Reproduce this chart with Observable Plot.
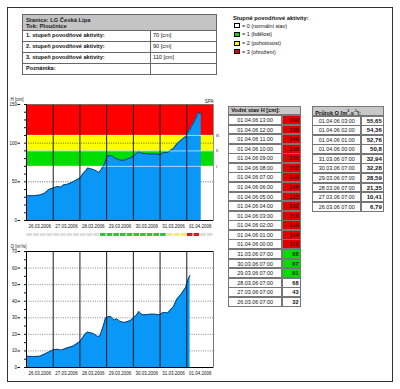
<!DOCTYPE html>
<html><head><meta charset="utf-8">
<script src="https://cdn.jsdelivr.net/npm/d3@7"></script>
<script src="https://cdn.jsdelivr.net/npm/@observablehq/plot@0.6"></script>
<style>
body{margin:0;background:#fff;font-family:"Liberation Sans",Arial,sans-serif;}
#page{position:relative;width:400px;height:389px;overflow:hidden;background:#fff;}
.a{position:absolute;box-sizing:border-box;white-space:nowrap;overflow:hidden;}
svg{position:absolute;}
</style></head><body><div id="page"></div>
<script>
// ---------- data ----------
const stationLines = ["Stanice: LG Česká Lípa", "Tok: Ploučnice"];
const infoLabels = ["1. stupeň povodňové aktivity:", "2. stupeň povodňové aktivity:", "3. stupeň povodňové aktivity:", "Poznámka:"];
const infoValues = ["70 [cm]", "90 [cm]", "110 [cm]", ""];
const legendTitle = "Stupně povodňové aktivity:";
const legendLabels = ["= 0 (normální stav)", "= 1 (bdělost)", "= 2 (pohotovost)", "= 3 (ohrožení)"];
const levelColors = ["#ffffff", "#00dd00", "#ffff00", "#e00000"];
const thresholds = [70, 90, 110];
const thresholdNames = ["I.", "II.", "III."];
const dayLabels = ["26.03.2006","27.03.2006","28.03.2006","29.03.2006","30.03.2006","31.03.2006","01.04.2006"];

const hTimes = ["2006-03-26 00:00","2006-03-26 06:00","2006-03-26 12:00","2006-03-26 16:00","2006-03-26 20:00",
 "2006-03-27 00:00","2006-03-27 04:00","2006-03-27 07:00","2006-03-27 09:00","2006-03-27 13:00","2006-03-27 18:00",
 "2006-03-28 00:00","2006-03-28 03:00","2006-03-28 05:00","2006-03-28 07:00","2006-03-28 09:00","2006-03-28 12:00","2006-03-28 15:00","2006-03-28 17:00","2006-03-28 19:00","2006-03-28 22:00",
 "2006-03-29 00:00","2006-03-29 02:00","2006-03-29 05:00","2006-03-29 07:00","2006-03-29 12:00","2006-03-29 16:00","2006-03-29 21:00",
 "2006-03-30 00:00","2006-03-30 03:00","2006-03-30 05:00","2006-03-30 07:00","2006-03-30 15:00","2006-03-30 21:00",
 "2006-03-31 00:00","2006-03-31 03:00","2006-03-31 07:00","2006-03-31 09:00","2006-03-31 12:00","2006-03-31 15:00","2006-03-31 19:00","2006-03-31 23:00",
 "2006-04-01 00:00","2006-04-01 01:00","2006-04-01 02:00","2006-04-01 03:00","2006-04-01 04:00","2006-04-01 05:00","2006-04-01 06:00","2006-04-01 07:00","2006-04-01 08:00","2006-04-01 09:00","2006-04-01 10:00","2006-04-01 11:00","2006-04-01 12:00","2006-04-01 13:00"];
const hValues = [32,32,33,35,40, 42,44,43,46,47,50, 55,61,64,68,67,66,64,62,65.5,73, 82,84,83.5,81,78,78,81, 83,87,89,87,86,86, 85,88,88,90.5,93,99,104,108.6, 112,114,116,118,122,123,126,129,132,136,138,140,138,139];

const qTimes = ["2006-03-26 00:00","2006-03-26 06:00","2006-03-26 12:00","2006-03-26 16:00","2006-03-26 21:00",
 "2006-03-27 00:00","2006-03-27 04:00","2006-03-27 07:00","2006-03-27 12:00","2006-03-27 18:00",
 "2006-03-28 00:00","2006-03-28 03:00","2006-03-28 05:00","2006-03-28 07:00","2006-03-28 12:00","2006-03-28 16:00","2006-03-28 18:00","2006-03-28 19:00","2006-03-28 21:00","2006-03-28 23:00",
 "2006-03-29 02:00","2006-03-29 04:00","2006-03-29 07:00","2006-03-29 09:00","2006-03-29 12:00","2006-03-29 16:00","2006-03-29 21:00",
 "2006-03-30 00:00","2006-03-30 03:00","2006-03-30 05:00","2006-03-30 07:00","2006-03-30 09:00","2006-03-30 16:00","2006-03-30 19:00","2006-03-30 23:00",
 "2006-03-31 03:00","2006-03-31 07:00","2006-03-31 09:00","2006-03-31 12:00","2006-03-31 15:00","2006-03-31 19:00","2006-03-31 23:00",
 "2006-04-01 00:00","2006-04-01 01:00","2006-04-01 02:00","2006-04-01 03:00"];
const qValues = [6.8,6.6,6.8,8,9.7, 10.7,11,10.41,11.7,12.9, 15.7,18.5,20.5,21.35,20.5,18.7,19,21,25,29.8, 30.8,30.6,28.59,29.4,27.8,27.2,28.2, 29.8,31.8,33.8,32.28,31.8,32.2,32.2,31.8, 33.2,32.94,34.6,36.6,41.2,44.3,48.3, 50.8,52.76,54.36,55.65];

const hTableTimes = ["01.04.06 13:00","01.04.06 12:00","01.04.06 11:00","01.04.06 10:00","01.04.06 09:00","01.04.06 08:00","01.04.06 07:00","01.04.06 06:00","01.04.06 05:00","01.04.06 04:00","01.04.06 03:00","01.04.06 02:00","01.04.06 01:00","01.04.06 00:00","31.03.06 07:00","30.03.06 07:00","29.03.06 07:00","28.03.06 07:00","27.03.06 07:00","26.03.06 07:00"];
const hTableValues = [139,138,140,138,136,132,129,126,123,122,118,116,114,112,88,87,81,68,43,32];
const hTableLevels = [3,3,3,3,3,3,3,3,3,3,3,3,3,3,1,1,1,0,0,0];
const qTableTimes = ["01.04.06 03:00","01.04.06 02:00","01.04.06 01:00","01.04.06 00:00","31.03.06 07:00","30.03.06 07:00","29.03.06 07:00","28.03.06 07:00","27.03.06 07:00","26.03.06 07:00"];
const qTableValues = ["55,65","54,36","52,76","50,8","32,94","32,28","28,59","21,35","10,41","6,79"];
// SPA level per 6-hour block (26.03 00:00 .. 02.04 00:00), -1 = no data
const spaBlocks = [0,0,0,0,0,0,0,0,0,0,0,1,1,1,1,1,1,1,1,1,1,2,2,2,3,3,-1,-1];
const spaStripColors = {"-1":"#dcdcdc","0":"#dcdcdc","1":"#3cc03c","2":"#eeee70","3":"#cc2020"};

// ---------- helpers ----------
const FONT = '"Liberation Sans", Arial, sans-serif';
const page = document.getElementById("page");
function box(x, y, w, h, css, html) {
  const d = document.createElement("div");
  d.className = "a";
  d.style.cssText = `left:${x}px;top:${y}px;width:${w}px;height:${h}px;` + (css || "");
  if (html !== undefined) d.innerHTML = html;
  page.appendChild(d);
  return d;
}
function place(svg, x, y) { svg.style.left = x + "px"; svg.style.top = y + "px"; page.appendChild(svg); }

// outer frame
box(7, 7, 386, 375, "border:1px solid #333;");

// info table
box(22, 14, 195, 17, "background:#c4c4c4;border:1px solid #666;padding:2px 0 0 3px;font-weight:bold;font-size:5.8px;line-height:6px;color:#222;", stationLines.join("<br>"));
const infoY = [30, 41, 52, 63];
infoLabels.forEach((lab, i) => {
  box(22, infoY[i], 129, 11.5, "border:1px solid #666;font-weight:bold;font-size:5.6px;line-height:9.5px;padding-left:3px;color:#111;", lab);
  box(150, infoY[i], 67, 11.5, "border:1px solid #666;font-size:5.6px;line-height:9.5px;padding-left:2px;color:#111;", infoValues[i]);
});

// legend
box(233, 14, 120, 8, "font-weight:bold;font-size:5.8px;line-height:8px;color:#111;", legendTitle);
legendLabels.forEach((lab, i) => {
  const yc = 25.7 + i * 8.67;
  box(233.5, yc - 2.3, 6.5, 4.8, `border:1px solid #000;background:${levelColors[i]};`);
  box(242, yc - 4, 90, 8, "font-size:5.4px;line-height:8px;color:#111;", lab);
});

// H table
box(228.3, 106, 72.7, 9.3, "background:#c8c8c8;border:1px solid #777;font-weight:bold;font-size:5.6px;line-height:7.5px;padding-left:2px;color:#111;", "Vodní stav H [cm]:");
hTableTimes.forEach((t, i) => {
  const y = 115 + i * 9.57;
  box(228.3, y, 53.7, 9.9, "border:1px solid #777;font-size:5.4px;line-height:8px;text-align:center;color:#111;background:#fff;", t);
  const lv = hTableLevels[i];
  box(281.5, y, 19.5, 9.9, `border:1px solid #777;background:${levelColors[lv]};font-weight:bold;font-size:5.6px;line-height:8px;text-align:right;padding-right:1.5px;color:${lv === 3 ? "#5a0000" : lv === 1 ? "#003300" : "#111"};`, hTableValues[i]);
});

// Q table
box(312.3, 106, 72, 10, "background:#c8c8c8;border:1px solid #777;font-weight:bold;font-size:5.6px;line-height:8.5px;padding-left:2px;color:#111;", "Průtok Q [m<sup style='font-size:3.5px'>3</sup>.s<sup style='font-size:3.5px'>-1</sup>]:");
qTableTimes.forEach((t, i) => {
  const y = 115.7 + i * 9.55;
  box(312.3, y, 49, 9.9, "border:1px solid #777;font-size:5.4px;line-height:8px;text-align:center;color:#111;", t);
  box(361, y, 23.3, 9.9, "border:1px solid #777;font-weight:bold;font-size:6px;line-height:8px;text-align:right;padding-right:1.5px;color:#111;", qTableValues[i]);
});

// ---------- charts ----------
const parseT = d3.utcParse("%Y-%m-%d %H:%M");
const parseDay = d3.utcParse("%d.%m.%Y");
const hData = hTimes.map((t, i) => ({t: parseT(t), v: hValues[i]}));
const qData = qTimes.map((t, i) => ({t: parseT(t), v: qValues[i]}));
const dayStarts = dayLabels.map(parseDay);
const xStart = dayStarts[0];
const xEnd = d3.utcDay.offset(dayStarts[dayStarts.length - 1], 1);
const dayNoons = dayStarts.map(d => d3.utcHour.offset(d, 12));
const labelMap = new Map(dayNoons.map((d, i) => [+d, dayLabels[i]]));
const dayBounds = dayStarts.slice(1);
const bands = [
  {lo: 0, hi: thresholds[0], fill: levelColors[0]},
  {lo: thresholds[0], hi: thresholds[1], fill: levelColors[1]},
  {lo: thresholds[1], hi: thresholds[2], fill: levelColors[2]},
  {lo: thresholds[2], hi: 150, fill: "#ff0000"}
];
const thrData = thresholds.map((v, i) => ({v, name: thresholdNames[i]}));
const AREA = "#0a98f8", OUTLINE = "#0a2a55";
const common = {
  width: 225, marginLeft: 26, marginRight: 12,
  style: {background: "transparent", fontFamily: FONT, fontSize: "4.5px", color: "#111", overflow: "visible"},
  x: {type: "utc", domain: [xStart, xEnd], label: null},
  color: {type: "identity"}
};
const xAxis = Plot.axisX({ticks: dayNoons, tickFormat: d => labelMap.get(+d), tickSize: 0, tickPadding: 4, fontSize: 4.5, fill: "#111"});

const topChart = Plot.plot({
  ...common, height: 144, marginTop: 16, marginBottom: 12,
  y: {domain: [0, 150], label: null},
  marks: [
    Plot.rect(bands, {x1: () => xStart, x2: () => xEnd, y1: "lo", y2: "hi", fill: "fill"}),
    Plot.ruleY([50, 100], {stroke: "#222", strokeDasharray: "1,1.3", strokeWidth: 0.7}),
    Plot.areaY(hData, {x: "t", y: "v", fill: AREA}),
    Plot.lineY(hData, {x: "t", y: "v", stroke: OUTLINE, strokeWidth: 0.8}),
    Plot.ruleY(thrData, {y: "v", stroke: "#f4f4f4", strokeWidth: 0.8, strokeOpacity: 0.85}),
    Plot.ruleX(dayBounds, {stroke: "#1a1a1a", strokeWidth: 1}),
    Plot.frame({stroke: "#777", strokeWidth: 0.8}),
    Plot.ruleX([xStart], {stroke: "#000"}),
    Plot.ruleY([0], {stroke: "#000"}),
    Plot.text(thrData, {y: "v", text: "name", frameAnchor: "right", textAnchor: "start", dx: 2.5, fontSize: 3.8, fill: "#222"}),
    Plot.text(["SPA"], {frameAnchor: "top-right", textAnchor: "end", dy: -5, fontSize: 4.5, fill: "#222"}),
    Plot.text(["H [cm]"], {frameAnchor: "top-left", textAnchor: "start", dx: -16, dy: -7, fontSize: 4.5, fill: "#111"}),
    Plot.axisY({ticks: [0, 50, 100, 150], tickSize: 2.5, tickPadding: 1, dx: -6, fontSize: 4.5, fill: "#111"}),
    Plot.axisY({ticks: d3.range(0, 151, 10), tickSize: 2, tickFormat: () => ""}),
    xAxis
  ]
});
place(topChart, 0, 88);

const strip = Plot.plot({
  ...common, height: 3, marginTop: 0, marginBottom: 0,
  y: {axis: null},
  marks: [
    Plot.rect(spaBlocks.map((lv, i) => ({a: d3.utcHour.offset(xStart, 6 * i), b: d3.utcHour.offset(xStart, 6 * i + 6), c: spaStripColors[lv]})),
      {x1: "a", x2: "b", fill: "c", insetLeft: 0.5, insetRight: 0.5}),
    Plot.axisX({ticks: []})
  ]
});
place(strip, 0, 233);

const botChart = Plot.plot({
  ...common, height: 148, marginTop: 15, marginBottom: 17,
  y: {domain: [0, 70], label: null},
  marks: [
    Plot.ruleY(d3.range(10, 70, 10), {stroke: "#555", strokeDasharray: "1,1.3", strokeWidth: 0.7}),
    Plot.areaY(qData, {x: "t", y: "v", fill: AREA}),
    Plot.lineY(qData, {x: "t", y: "v", stroke: OUTLINE, strokeWidth: 0.8}),
    Plot.ruleX(dayBounds, {stroke: "#1a1a1a", strokeWidth: 1}),
    Plot.frame({stroke: "#555", strokeWidth: 0.8}),
    Plot.ruleX([xStart], {stroke: "#000"}),
    Plot.ruleY([0, 70], {stroke: "#000"}),
    Plot.text(["Q [m³/s]"], {frameAnchor: "top-left", textAnchor: "start", dx: -16, dy: -7, fontSize: 4.5, fill: "#111"}),
    Plot.axisY({ticks: d3.range(0, 71, 10), tickSize: 2.5, tickPadding: 1, dx: -6, fontSize: 4.5, fill: "#111"}),
    Plot.axisY({ticks: d3.range(0, 71, 5), tickSize: 2, tickFormat: () => ""}),
    xAxis
  ]
});
place(botChart, 0, 236);
</script></body></html>
